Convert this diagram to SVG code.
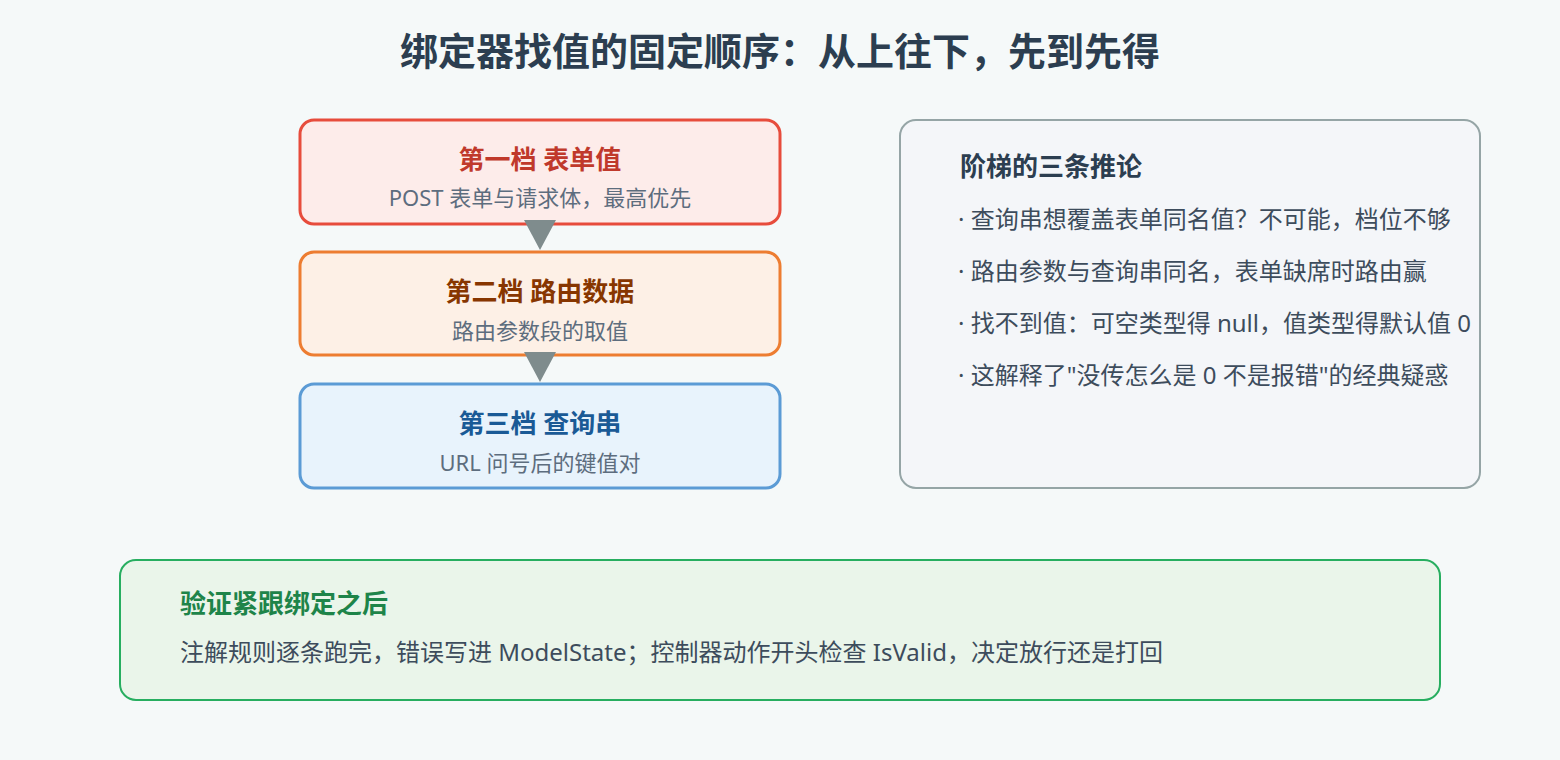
<svg xmlns="http://www.w3.org/2000/svg" width="1560" height="760" viewBox="0 0 1560 760">
<style>
text{font-family:"Noto Sans","Noto Sans CJK SC",sans-serif}
.title{font-size:38px;font-weight:bold;fill:#2c3e50;text-anchor:middle}
.bt{font-size:26px;font-weight:bold;text-anchor:middle}
.bs{font-size:22px;fill:#5d6d7e;text-anchor:middle}
.h{font-size:26px;font-weight:bold}
.li{font-size:24px;fill:#3d4c5c}
.arrow{fill:#7f8c8d}
</style>
<rect width="1560" height="760" fill="#f5f9f9"/>
<text class="title" x="780" y="65">绑定器找值的固定顺序：从上往下，先到先得</text>
<g id="tier1">
<rect x="300" y="120" width="480" height="104" rx="14" fill="#fdecea" stroke="#e74c3c" stroke-width="3"/>
<text class="bt" x="540" y="169" fill="#c0392b">第一档 表单值</text>
<text class="bs" x="540" y="206">POST 表单与请求体，最高优先</text>
</g>
<g id="tier2">
<rect x="300" y="252" width="480" height="103" rx="14" fill="#fdf0e6" stroke="#ed7d31" stroke-width="3"/>
<text class="bt" x="540" y="301" fill="#873600">第二档 路由数据</text>
<text class="bs" x="540" y="339">路由参数段的取值</text>
</g>
<g id="tier3">
<rect x="300" y="384" width="480" height="104" rx="14" fill="#e8f3fc" stroke="#5b9bd5" stroke-width="3"/>
<text class="bt" x="540" y="433" fill="#1a5a96">第三档 查询串</text>
<text class="bs" x="540" y="471">URL 问号后的键值对</text>
</g>
<g id="connectors">
<polygon class="arrow" points="524,220 556,220 540,250"/>
<polygon class="arrow" points="524,352 556,352 540,382"/>
</g>
<g id="corollaries">
<rect x="900" y="120" width="580" height="368" rx="16" fill="#f4f6f9" stroke="#95a5a6" stroke-width="2"/>
<text class="h" x="960" y="176" fill="#2c3e50">阶梯的三条推论</text>
<text class="li" x="958" y="228">· 查询串想覆盖表单同名值？不可能，档位不够</text>
<text class="li" x="958" y="280">· 路由参数与查询串同名，表单缺席时路由赢</text>
<text class="li" x="958" y="332">· 找不到值：可空类型得 null，值类型得默认值 0</text>
<text class="li" x="958" y="384">· 这解释了"没传怎么是 0 不是报错"的经典疑惑</text>
</g>
<g id="validation">
<rect x="120" y="560" width="1320" height="140" rx="16" fill="#eaf5ea" stroke="#27ae60" stroke-width="2"/>
<text class="h" x="180" y="613" fill="#1e8449">验证紧跟绑定之后</text>
<text class="li" x="180" y="661">注解规则逐条跑完，错误写进 ModelState；控制器动作开头检查 IsValid，决定放行还是打回</text>
</g>
</svg>
